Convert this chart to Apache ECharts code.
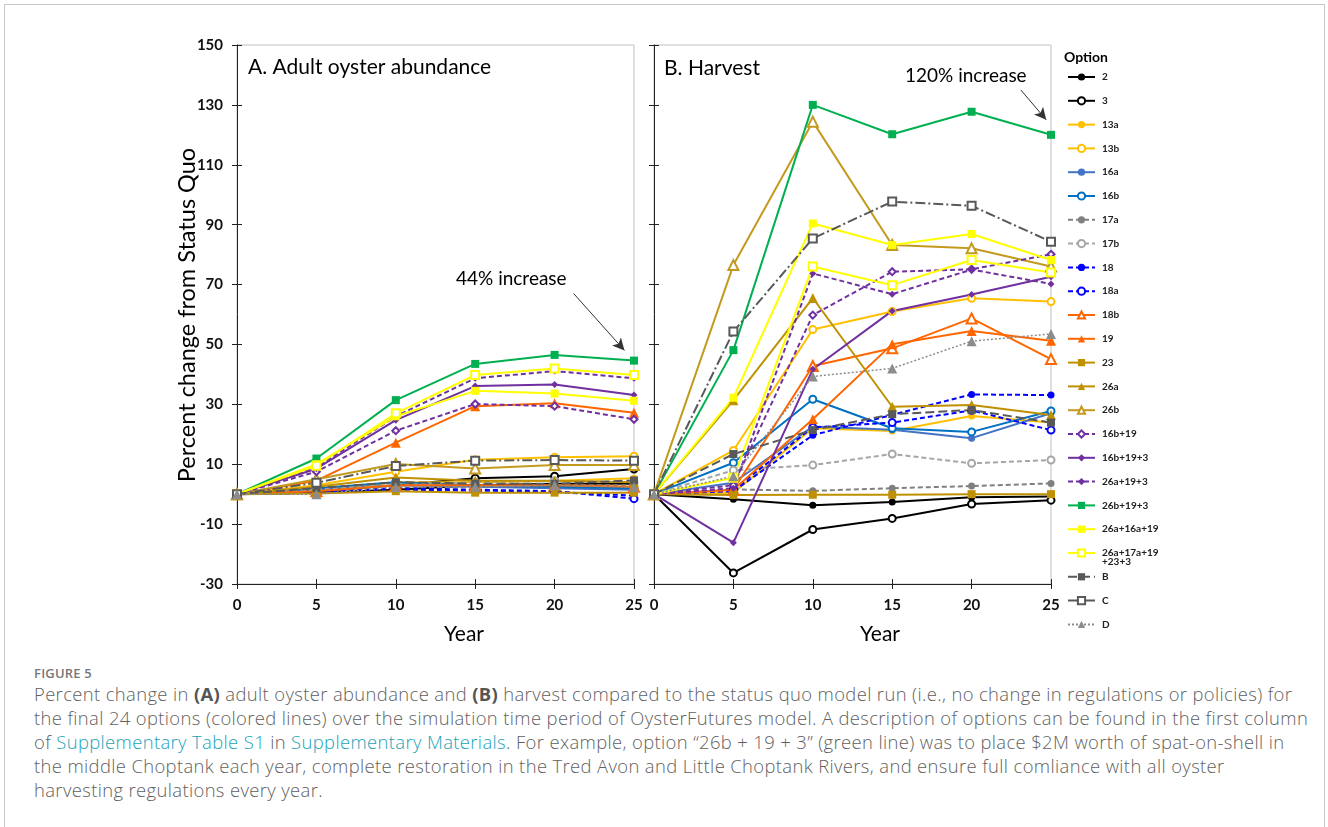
<!DOCTYPE html>
<html>
<head>
<meta charset="utf-8">
<script src="https://cdn.jsdelivr.net/npm/echarts@6/dist/echarts.min.js"></script>
<style>
    html, body { margin: 0; padding: 0; background: #fff; }
    #frame { position: absolute; left: 4px; top: 4px; width: 1319px; height: 830px; border: 1px solid #c8c8c8; }
    #chart { position: absolute; left: 0; top: 0; width: 1328px; height: 660px; }
    #caption { position: absolute; left: 34px; top: 664px; font-family: "Open Sans", sans-serif; color: #666; white-space: nowrap; }
    #caption .fig { font-size: 13px; line-height: 18px; font-weight: 600; color: #777; letter-spacing: 0.2px; }
    #caption .txt { font-size: 18.4px; line-height: 24px; font-weight: 300; color: #5f5f5f; margin-top: 0px; letter-spacing: 0.38px; }
    #caption b { font-weight: 700; color: #555; }
    #caption a { color: #1aa3b8; text-decoration: none; }
</style>
</head>
<body>
<div id="frame"></div>
<div id="chart"></div>
<div id="caption">
    <div class="fig">FIGURE 5</div>
    <div class="txt">Percent change in <b>(A)</b> adult oyster abundance and <b>(B)</b> harvest compared to the status quo model run (i.e., no change in regulations or policies) for<br>the final 24 options (colored lines) over the simulation time period of OysterFutures model. A description of options can be found in the first column<br>of <a>Supplementary Table S1</a> in <a>Supplementary Materials</a>. For example, option “26b + 19 + 3” (green line) was to place $2M worth of spat-on-shell in<br>the middle Choptank each year, complete restoration in the Tred Avon and Little Choptank Rivers, and ensure full comliance with all oyster<br>harvesting regulations every year.</div>
</div>
<script>
    // years of the simulation
    var years = [0, 5, 10, 15, 20, 25];
    var yTicks = [-30, 150, 20];

    var optionNames = ['2', '3', '13a', '13b', '16a', '16b', '17a', '17b', '18', '18a', '18b', '19', '23',
        '26a', '26b', '16b+19', '16b+19+3', '26a+19+3', '26b+19+3', '26a+16a+19', '26a+17a+19+23+3', 'B', 'C', 'D'];

    // A. adult oyster abundance (% change from status quo)
    var a2 = [0, 0.5, 1.5, 3, 3.5, 3.5];
    var a3 = [0, 1, 3, 5.3, 6, 8.4];
    var a13a = [0, 1.5, 4, 4, 4.5, 5.3];
    var a13b = [0, 3, 7.5, 11.5, 12.3, 12.7];
    var a16a = [0, 1.5, 3, 2.5, 2, 1.5];
    var a16b = [0, 2, 4, 3, 2.5, 2];
    var a17a = [0, 1, 2, 2.5, 3, 3];
    var a17b = [0, 1.5, 3, 4, 4.5, 4];
    var a18 = [0, 0.5, 1.5, 1.2, 0.8, -0.5];
    var a18a = [0, 0.5, 2, 1.5, 1, -1.5];
    var a18b = [0, 1, 3, 3, 3, 2.5];
    var a19 = [0, 4.5, 17.2, 29.4, 30.4, 27.2];
    var a23 = [0, 0.2, 1, 0.5, 0.5, 0.5];
    var a26a = [0, 2.5, 5.6, 4.5, 4.5, 4];
    var a26b = [0, 5, 10.1, 8.6, 9.7, 9.7];
    var a16b_19 = [0, 7.5, 21.2, 30.1, 29.4, 25];
    var a16b_19_3 = [0, 8.5, 24.7, 36.1, 36.6, 33.1];
    var a26a_19_3 = [0, 9, 26, 38.7, 41.1, 38.7];
    var a26b_19_3 = [0, 11.9, 31.4, 43.5, 46.5, 44.6];
    var a26a_16a_19 = [0, 10, 26, 34.5, 33.6, 31.2];
    var a26a_17a_19_23_3 = [0, 9.5, 27, 39.8, 42, 39.8];
    var aB = [0, 2, 4, 3.5, 3.5, 4.6];
    var aC = [0, 3.8, 9.4, 11.2, 11.4, 11.2];
    var aD = [0, 0, 2.4, 2.5, 3, 2.3];

    // B. harvest (% change from status quo)
    var h2 = [0, -1.7, -3.7, -2.6, -1, -0.8];
    var h3 = [0, -26.3, -11.8, -8.1, -3.3, -2];
    var h13a = [0, 0.5, 22, 21.1, 26.1, 23.9];
    var h13b = [0, 14.6, 55, 61, 65.4, 64.3];
    var h16a = [0, 3.8, 22.6, 21.5, 18.7, 27];
    var h16b = [0, 10.5, 31.7, 22, 20.8, 27.8];
    var h17a = [0, 1.6, 1.1, 2, 2.7, 3.6];
    var h17b = [0, 8, 9.7, 13.4, 10.3, 11.4];
    var h18 = [0, 1, 19.7, 26.5, 33.3, 33.1];
    var h18a = [0, 1.5, 22.3, 23.9, 28, 21.4];
    var h18b = [0, 1.5, 42.8, 48.7, 58.7, 45.1];
    var h19 = [0, 1.5, 25, 50.1, 54.5, 51.2];
    var h23 = [0, -0.3, -0.2, -0.2, 0, 0];
    var h26a = [0, 31.4, 65.5, 29.2, 29.8, 26.4];
    var h26b = [0, 76.5, 124.4, 83.2, 82.1, 76];
    var h16b_19 = [0, 3, 59.8, 74.3, 75.1, 80.1];
    var h16b_19_3 = [0, -16.2, 41.7, 61.2, 66.7, 72.6];
    var h26a_19_3 = [0, 2, 73.7, 66.8, 75, 70.2];
    var h26b_19_3 = [0, 48.1, 130, 120.2, 127.7, 120];
    var h26a_16a_19 = [0, 32.2, 90.4, 83.2, 86.9, 78.2];
    var h26a_17a_19_23_3 = [0, 5.5, 76, 69.8, 78.2, 74];
    var hB = [0, 13.4, 21.4, 26.7, 28.1, 23.9];
    var hC = [0, 54.3, 85.4, 97.7, 96.3, 84.3];
    var hD = [0, 6, 39.3, 42, 51.1, 53.5];

    var abundance = [a2, a3, a13a, a13b, a16a, a16b, a17a, a17b, a18, a18a, a18b, a19, a23,
        a26a, a26b, a16b_19, a16b_19_3, a26a_19_3, a26b_19_3, a26a_16a_19, a26a_17a_19_23_3, aB, aC, aD];
    var harvest = [h2, h3, h13a, h13b, h16a, h16b, h17a, h17b, h18, h18a, h18b, h19, h23,
        h26a, h26b, h16b_19, h16b_19_3, h26a_19_3, h26b_19_3, h26a_16a_19, h26a_17a_19_23_3, hB, hC, hD];

    var dash = [5, 3];
    var styles = {
        '2': {color: '#000000', symbol: 'circle'},
        '3': {color: '#000000', symbol: 'emptyCircle'},
        '13a': {color: '#FFC000', symbol: 'circle'},
        '13b': {color: '#FFC000', symbol: 'emptyCircle'},
        '16a': {color: '#4472C4', symbol: 'circle'},
        '16b': {color: '#0070C0', symbol: 'emptyCircle'},
        '17a': {color: '#808080', symbol: 'circle', type: dash},
        '17b': {color: '#A6A6A6', symbol: 'emptyCircle', type: dash},
        '18': {color: '#0000FF', symbol: 'circle', type: dash},
        '18a': {color: '#0000FF', symbol: 'emptyCircle', type: dash},
        '18b': {color: '#FF6600', symbol: 'emptyTriangle'},
        '19': {color: '#FF6600', symbol: 'triangle'},
        '23': {color: '#BF9000', symbol: 'rect'},
        '26a': {color: '#BF9000', symbol: 'triangle'},
        '26b': {color: '#C49A1E', symbol: 'emptyTriangle'},
        '16b+19': {color: '#7030A0', symbol: 'emptyDiamond', type: dash},
        '16b+19+3': {color: '#7030A0', symbol: 'diamond'},
        '26a+19+3': {color: '#7030A0', symbol: 'diamond', type: dash},
        '26b+19+3': {color: '#00B050', symbol: 'rect'},
        '26a+16a+19': {color: '#FFFF00', symbol: 'rect'},
        '26a+17a+19+23+3': {color: '#FFFF00', symbol: 'emptyRect'},
        'B': {color: '#595959', symbol: 'rect', type: [9, 4]},
        'C': {color: '#595959', symbol: 'emptyRect', type: [10, 3, 2, 3]},
        'D': {color: '#8C8C8C', symbol: 'triangle', type: [2, 2], width: 1.5}
    };

    function symbolSize(sym) {
        if (sym.indexOf('riangle') > -1) return 10;
        if (sym.indexOf('ect') > -1) return 8;
        return 7;
    }

    function makeSeries(name, values, axisIndex) {
        var s = styles[name];
        return {
            name: name,
            type: 'line',
            xAxisIndex: axisIndex,
            yAxisIndex: axisIndex,
            data: years.map(function (y, i) { return [y, values[i]]; }),
            symbol: s.symbol,
            symbolSize: symbolSize(s.symbol),
            showAllSymbol: true,
            itemStyle: {color: s.color, borderWidth: 1.3},
            lineStyle: {color: s.color, width: s.width || 2, type: s.type || 'solid'},
            emphasis: {disabled: true}
        };
    }

    var series = [];
    optionNames.forEach(function (n, i) { series.push(makeSeries(n, abundance[i], 0)); });
    optionNames.forEach(function (n, i) { series.push(makeSeries(n, harvest[i], 2)); });

    // arrows pointing at the final green point
    var arrowStyle = {
        silent: true, symbol: ['none', 'arrow'], symbolSize: [9, 12],
        lineStyle: {color: '#333', width: 1, type: 'solid'}, label: {show: false}
    };
    series[18].markLine = Object.assign({data: [[{coord: [21.2, 67]}, {coord: [24.4, 48]}]]}, arrowStyle);
    series[24 + 18].markLine = Object.assign({data: [[{coord: [23.1, 135]}, {coord: [24.7, 125]}]]}, arrowStyle);

    var labelFont = {fontFamily: 'Lato', fontWeight: 'bold', fontSize: 15, color: '#111'};

    function xAxis(grid, main) {
        return {
            type: 'value', gridIndex: grid, position: 'bottom', min: 0, max: 25, interval: 5,
            axisLine: {show: main, onZero: false, lineStyle: {color: '#222', width: 1}},
            axisTick: {show: true, inside: !main, length: 5, lineStyle: {color: '#222'}},
            axisLabel: Object.assign({show: main, margin: 14}, labelFont),
            splitLine: {show: false}
        };
    }

    function yAxis(grid, main, labels) {
        return {
            type: 'value', gridIndex: grid, position: 'left', min: yTicks[0], max: yTicks[1], interval: yTicks[2],
            axisLine: {show: main, onZero: false, lineStyle: {color: '#222', width: 1}},
            axisTick: {show: true, inside: !main, length: 5, lineStyle: {color: '#222'}},
            axisLabel: Object.assign({show: labels, margin: 14}, labelFont),
            splitLine: {show: false}
        };
    }

    function txt(x, y, text, font, extra) {
        return {
            type: 'text', x: x, y: y, silent: true,
            style: Object.assign({text: text, font: font, fill: '#000', verticalAlign: 'middle'}, extra || {})
        };
    }

    var chart = echarts.init(document.getElementById('chart'));

    var option = {
        animation: false,
        grid: [
            {left: 237, top: 45, width: 397, height: 539, show: true, borderColor: '#bfbfbf', borderWidth: 1},
            {left: 654, top: 45, width: 397, height: 539, show: true, borderColor: '#bfbfbf', borderWidth: 1}
        ],
        xAxis: [xAxis(0, true), xAxis(0, false), xAxis(1, true), xAxis(1, false)],
        yAxis: [yAxis(0, true, true), yAxis(0, false, false), yAxis(1, true, false), yAxis(1, false, false)],
        legend: {
            data: optionNames,
            orient: 'vertical',
            left: 1067,
            top: 71,
            padding: 0,
            itemWidth: 27,
            itemHeight: 9,
            itemGap: 11.8,
            formatter: function (name) {
                return name === '26a+17a+19+23+3' ? '26a+17a+19' : name;
            },
            textStyle: {fontFamily: 'Lato', fontWeight: 'bold', fontSize: 10, lineHeight: 12, color: '#222', padding: [0, 0, 0, 2]}
        },
        graphic: [
            txt(248, 67, 'A. Adult oyster abundance', '21px Lato'),
            txt(664, 68, 'B. Harvest', '21px Lato'),
            txt(464, 634, 'Year', '21px Lato', {align: 'center'}),
            txt(880, 634, 'Year', '21px Lato', {align: 'center'}),
            txt(456, 279, '44% increase', '19px Lato'),
            txt(905, 76, '120% increase', '19px Lato'),
            txt(1064, 57, 'Option', 'bold 14px Lato'),
            txt(1102, 562, '+23+3', 'bold 10px Lato', {fill: '#222'}),
            {
                type: 'text', x: 187, y: 315, rotation: Math.PI / 2, silent: true,
                style: {text: 'Percent change from Status Quo', font: '23.5px Lato', fill: '#000', align: 'center', verticalAlign: 'middle'}
            }
        ],
        series: series
    };

    chart.setOption(option);
</script>
</body>
</html>
